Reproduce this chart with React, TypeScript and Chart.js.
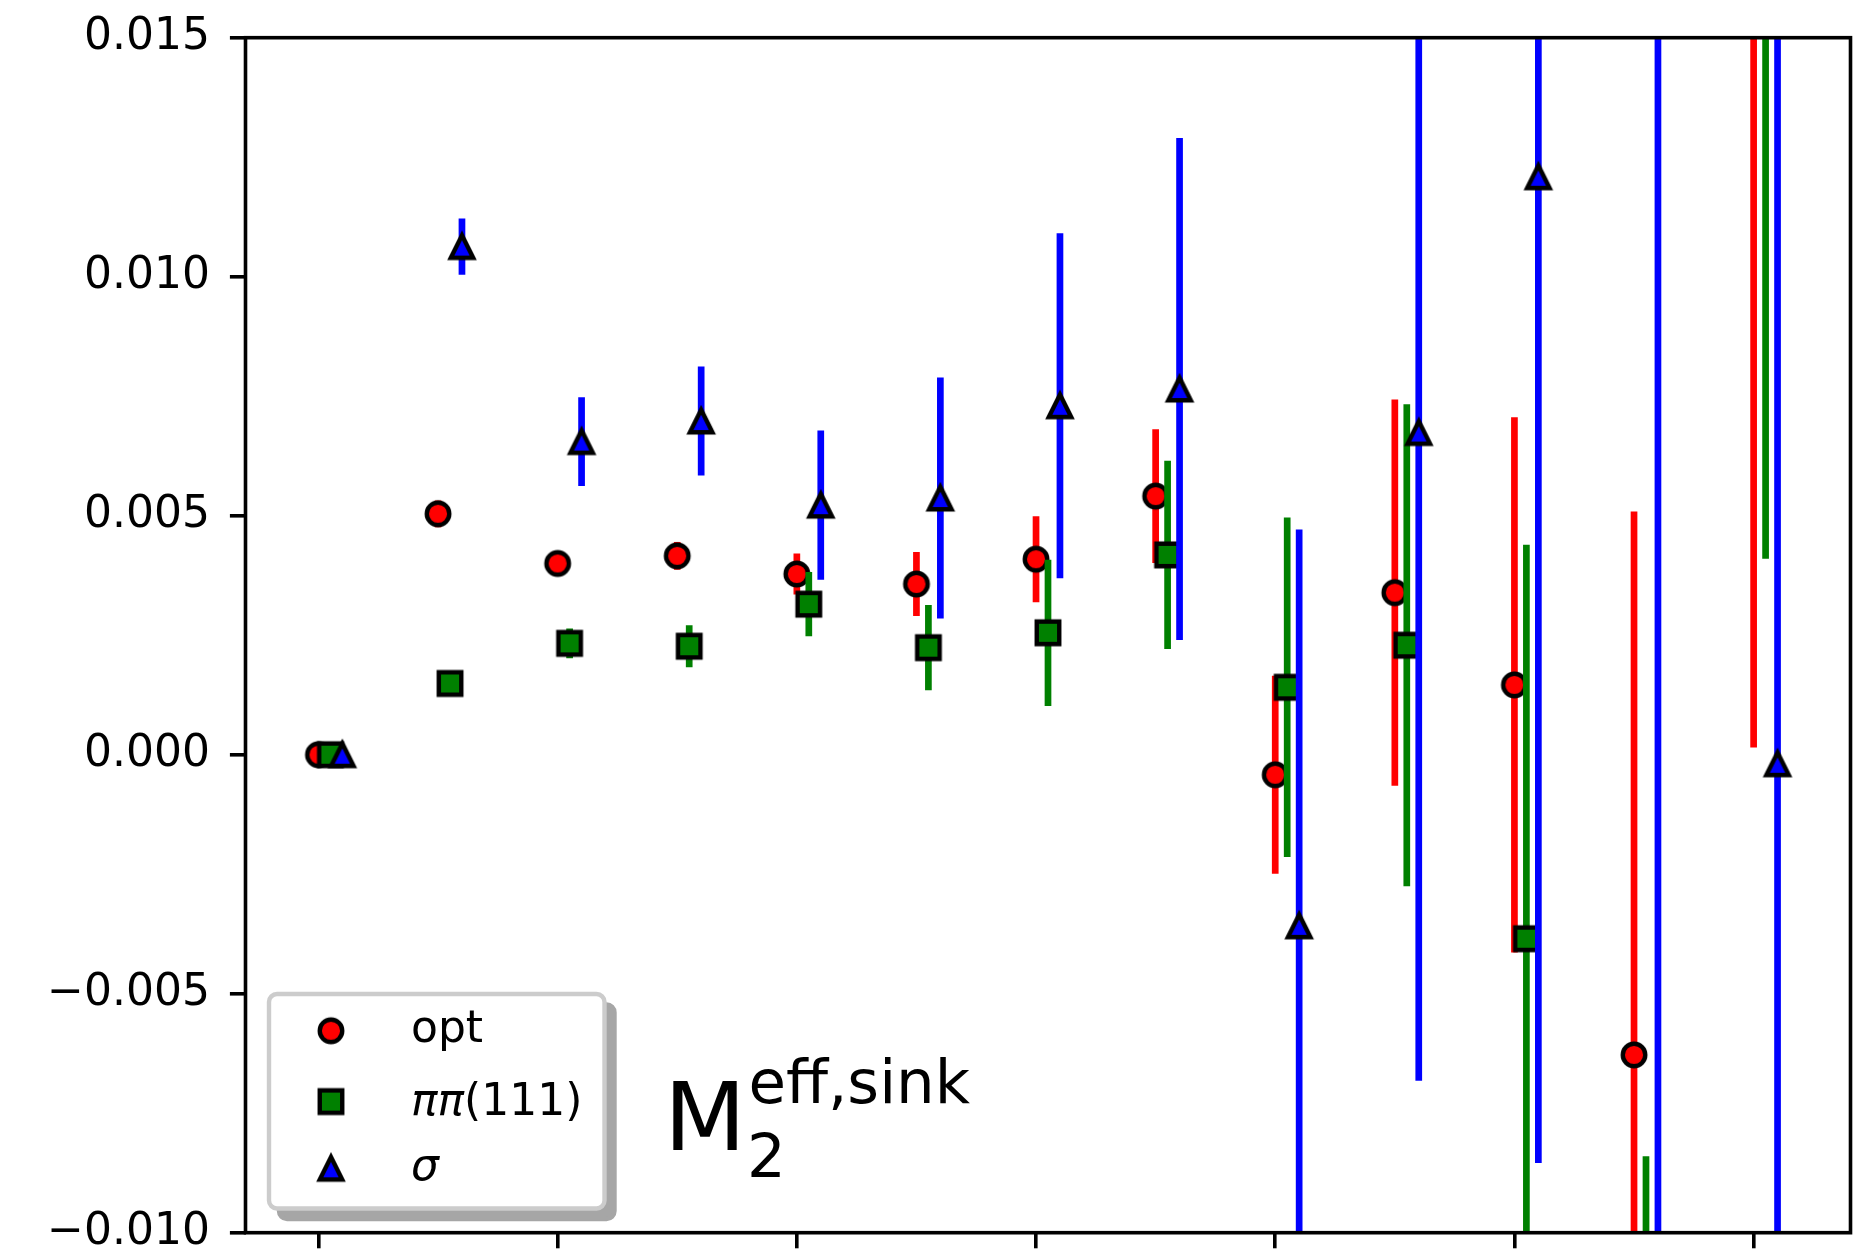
import React, { useEffect, useRef } from "react";
import { Chart, registerables } from "chart.js";

Chart.register(...registerables);

// ---------------- data ----------------
const timeSlices = [0, 1, 2, 3, 4, 5, 6, 7, 8, 9, 10, 11, 12];
const seriesOffsets = [0, 0.1, 0.2];
const seriesLabels = ["opt", "ππ(111)", "σ"];

const optValues = [0, 0.00504, 0.0040, 0.00416, 0.00378, 0.00357, 0.00409, 0.00541, -0.00042, 0.00339, 0.00146, -0.00628, 0.0185];
const optErrors = [0, 0.00028, 0.0002, 0.00029, 0.00043, 0.00067, 0.0009, 0.0014, 0.00207, 0.00404, 0.0056, 0.01137, 0.01835];

const pipiValues = [0, 0.00149, 0.00233, 0.00227, 0.00315, 0.00224, 0.00255, 0.00418, 0.00141, 0.00229, -0.00385, -0.0135, 0.0195];
const pipiErrors = [0, 0.0002, 0.00031, 0.00044, 0.00067, 0.00089, 0.00153, 0.00197, 0.00355, 0.00504, 0.00824, 0.0051, 0.0154];

const sigmaValues = [0, 0.01063, 0.00655, 0.00698, 0.00522, 0.00537, 0.0073, 0.00765, -0.00358, 0.00674, 0.01209, 0.02, -0.00019];
const sigmaErrors = [0, 0.00059, 0.00093, 0.00114, 0.00156, 0.00252, 0.00361, 0.00525, 0.00829, 0.01356, 0.02063, 0.04, 0.0205];

const yTickValues = [-0.01, -0.005, 0, 0.005, 0.01, 0.015];
const xTickValues = [0, 2, 4, 6, 8, 10, 12];

const seriesColors = ["#ff0000", "#008000", "#0000ff"];
const seriesShapes = ["circle", "square", "triangle"];

// legend label pieces (italic = math letters)
const legendParts = [
  [{ text: "opt", italic: false }],
  [{ text: "ππ", italic: true }, { text: "(111)", italic: false }],
  [{ text: "σ", italic: true }],
];

const FONT = "'DejaVu Sans', 'Noto Sans', sans-serif";

function makeMarker(shape: string, fill: string): HTMLCanvasElement {
  const s = 22.5;
  const e = 4.4;
  const size = 36;
  const c = document.createElement("canvas");
  c.width = size;
  c.height = size;
  const ctx = c.getContext("2d")!;
  const m = size / 2;
  ctx.beginPath();
  if (shape === "circle") {
    ctx.arc(m, m, s / 2, 0, Math.PI * 2);
  } else if (shape === "square") {
    ctx.rect(m - s / 2, m - s / 2, s, s);
  } else {
    ctx.moveTo(m, m - s / 2);
    ctx.lineTo(m - s / 2, m + s / 2);
    ctx.lineTo(m + s / 2, m + s / 2);
    ctx.closePath();
  }
  ctx.fillStyle = fill;
  ctx.fill();
  ctx.lineWidth = e;
  ctx.lineJoin = "miter";
  ctx.strokeStyle = "#000000";
  ctx.stroke();
  return c;
}

function formatTick(v: number): string {
  if (Math.abs(v) < 1e-12) return "0.000";
  const s = Math.abs(v).toFixed(3);
  return v < 0 ? "\u2212" + s : s;
}

export default function App() {
  const ref = useRef<HTMLCanvasElement>(null);

  useEffect(() => {
    const canvas = ref.current;
    if (!canvas) return;
    const markers = seriesShapes.map((sh, i) => makeMarker(sh, seriesColors[i]));
    const valueSets = [optValues, pipiValues, sigmaValues];
    const errorSets = [optErrors, pipiErrors, sigmaErrors];

    const datasets: any[] = valueSets.map((vals, si) => ({
      label: seriesLabels[si],
      data: timeSlices.map((t, i) => ({ x: t + seriesOffsets[si], y: vals[i] })),
      errors: errorSets[si],
      errorColor: seriesColors[si],
      pointStyle: markers[si],
      pointRadius: 12,
      pointHoverRadius: 12,
      showLine: false,
      order: 3 - si,
      clip: 0,
    }));

    const errorBarPlugin = {
      id: "errorBars",
      beforeDatasetDraw(chart: any, args: any) {
        const ds = chart.data.datasets[args.index];
        if (!ds || !ds.errors) return;
        const { ctx, chartArea, scales } = chart;
        ctx.save();
        ctx.beginPath();
        ctx.rect(chartArea.left, chartArea.top, chartArea.right - chartArea.left, chartArea.bottom - chartArea.top);
        ctx.clip();
        ctx.strokeStyle = ds.errorColor;
        ctx.lineWidth = 6.7;
        ctx.lineCap = "butt";
        ds.data.forEach((p: any, i: number) => {
          const e = ds.errors[i];
          if (!e) return;
          const x = scales.x.getPixelForValue(p.x);
          const y1 = scales.y.getPixelForValue(p.y - e);
          const y2 = scales.y.getPixelForValue(p.y + e);
          ctx.beginPath();
          ctx.moveTo(x, y1);
          ctx.lineTo(x, y2);
          ctx.stroke();
        });
        ctx.restore();
      },
    };

    const framePlugin = {
      id: "frameAndLegend",
      afterDatasetsDraw(chart: any) {
        const { ctx, chartArea } = chart;
        ctx.save();
        ctx.strokeStyle = "#000000";
        ctx.lineWidth = 3.6;
        ctx.strokeRect(chartArea.left, chartArea.top, chartArea.right - chartArea.left, chartArea.bottom - chartArea.top);
        ctx.restore();
      },
      afterDraw(chart: any) {
        const { ctx } = chart;
        ctx.save();
        // legend box
        const L = 269, T = 994, R = 604.5, B = 1208.5, rad = 8;
        const rr = (dx: number, dy: number) => {
          ctx.beginPath();
          ctx.moveTo(L + dx + rad, T + dy);
          ctx.lineTo(R + dx - rad, T + dy);
          ctx.arcTo(R + dx, T + dy, R + dx, T + dy + rad, rad);
          ctx.lineTo(R + dx, B + dy - rad);
          ctx.arcTo(R + dx, B + dy, R + dx - rad, B + dy, rad);
          ctx.lineTo(L + dx + rad, B + dy);
          ctx.arcTo(L + dx, B + dy, L + dx, B + dy - rad, rad);
          ctx.lineTo(L + dx, T + dy + rad);
          ctx.arcTo(L + dx, T + dy, L + dx + rad, T + dy, rad);
          ctx.closePath();
        };
        rr(10, 10.5);
        ctx.fillStyle = "#a6a6a6";
        ctx.fill();
        ctx.lineWidth = 4.4;
        ctx.strokeStyle = "#a6a6a6";
        ctx.stroke();
        rr(0, 0);
        ctx.fillStyle = "#ffffff";
        ctx.fill();
        ctx.strokeStyle = "#cccccc";
        ctx.stroke();

        const rowCenters = [1030.8, 1101.6, 1168.3];
        const rowBaselines = [1041.5, 1115, 1180];
        ctx.fillStyle = "#000000";
        ctx.textAlign = "left";
        ctx.textBaseline = "alphabetic";
        legendParts.forEach((parts, i) => {
          const mk = markers[i];
          ctx.drawImage(mk, 331 - mk.width / 2, rowCenters[i] - mk.height / 2);
          let x = 411;
          parts.forEach((p) => {
            ctx.font = (p.italic ? "italic " : "") + "44px " + FONT;
            ctx.fillText(p.text, x, rowBaselines[i]);
            x += ctx.measureText(p.text).width;
          });
        });

        // annotation M_2^{eff,sink}
        ctx.font = "95px " + FONT;
        ctx.fillText("M", 664, 1150);
        ctx.font = "61px " + FONT;
        ctx.fillText("2", 747, 1176.7);
        ctx.fillText("eff,sink", 748.4, 1103.3);
        ctx.restore();
      },
    };

    const chart = new Chart(canvas, {
      type: "scatter",
      data: { datasets },
      options: {
        animation: false,
        responsive: false,
        devicePixelRatio: 1,
        layout: { padding: { top: 37.7, right: 20.5, left: 0, bottom: 0 } },
        plugins: {
          legend: { display: false },
          tooltip: { enabled: false },
        },
        scales: {
          x: {
            type: "linear",
            min: -0.61,
            max: 12.81,
            afterBuildTicks: (scale: any) => {
              scale.ticks = xTickValues.map((v) => ({ value: v }));
            },
            afterFit: (scale: any) => {
              scale.height = 1251 - 1232.7;
              scale.paddingLeft = 0;
              scale.paddingRight = 0;
              scale.paddingTop = 0;
              scale.paddingBottom = 0;
            },
            ticks: { display: false },
            border: { display: false },
            grid: {
              display: true,
              drawOnChartArea: false,
              drawTicks: true,
              tickLength: 15.6,
              tickWidth: 3.6,
              lineWidth: 3.6,
              color: "#000000",
              tickColor: "#000000",
            },
          },
          y: {
            type: "linear",
            min: -0.01,
            max: 0.015,
            afterBuildTicks: (scale: any) => {
              scale.ticks = yTickValues.map((v) => ({ value: v }));
            },
            afterFit: (scale: any) => {
              scale.width = 245.5;
              scale.paddingLeft = 0;
              scale.paddingRight = 0;
              scale.paddingTop = 0;
              scale.paddingBottom = 0;
            },
            ticks: {
              callback: (v: any) => formatTick(Number(v)),
              font: { family: FONT, size: 44 },
              color: "#000000",
              padding: 20,
            },
            border: { display: false },
            grid: {
              display: true,
              drawOnChartArea: false,
              drawTicks: true,
              tickLength: 15.6,
              tickWidth: 3.6,
              lineWidth: 3.6,
              color: "#000000",
              tickColor: "#000000",
            },
          },
        },
      } as any,
      plugins: [errorBarPlugin, framePlugin],
    });

    return () => chart.destroy();
  }, []);

  return (
    <div style={{ position: "absolute", left: 0, top: 0, width: 1871, height: 1251, background: "#ffffff" }}>
      <canvas ref={ref} width={1871} height={1251} style={{ display: "block", width: 1871, height: 1251 }} />
    </div>
  );
}
